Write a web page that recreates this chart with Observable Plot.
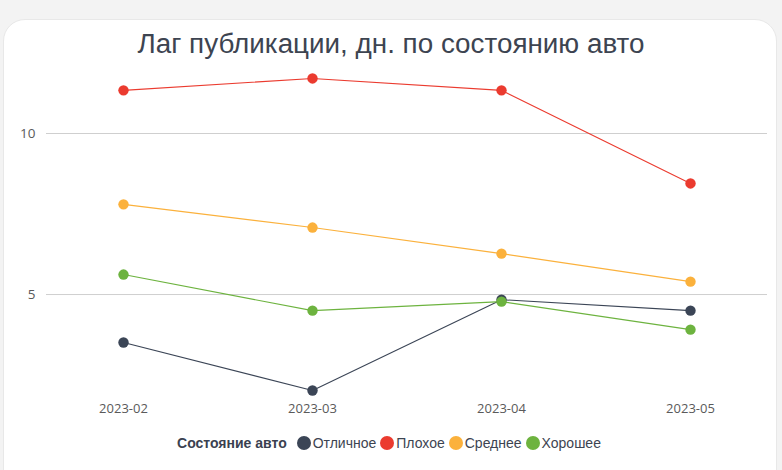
<!DOCTYPE html>
<html>
<head>
<meta charset="utf-8">
<script src="https://cdn.jsdelivr.net/npm/d3@7"></script>
<script src="https://cdn.jsdelivr.net/npm/@observablehq/plot@0.6"></script>
<style>
  html, body { margin: 0; padding: 0; background: #f3f3f3; width: 782px; height: 470px; overflow: hidden; }
  #card { position: absolute; left: 3px; top: 19px; width: 774px; height: 480px; background: #fff; border: 1px solid #e8e8e8; border-radius: 22px; box-sizing: border-box; }
  #title { position: absolute; left: 391px; top: 27px; white-space: nowrap; font-family: "Liberation Sans", "Arial", sans-serif; font-size: 27px; color: #3d4451; line-height: 34px; transform-origin: 0 0; }
  #chart { position: absolute; left: 0; top: 60px; }
  #legend { position: absolute; left: 0; width: 782px; top: 434px; text-align: center; font-family: "Liberation Sans", "Arial", sans-serif; font-size: 14px; color: #3d4451; line-height: 18px; white-space: nowrap; }
  #legend .lt { font-weight: 700; color: #3a4150; margin-right: 10px; }
  #legend .it { display: inline-block; margin-right: 4px; }
  #legend .sw { display: inline-block; width: 14px; height: 14px; border-radius: 50%; vertical-align: -2px; margin-right: 2px; }
</style>
</head>
<body>
<div id="card"></div>
<div id="title">Лаг публикации, дн. по состоянию авто</div>
<div id="chart"></div>
<div id="legend"></div>
<script>
const months = ["2023-02", "2023-03", "2023-04", "2023-05"];
const categories = ["Отличное", "Плохое", "Среднее", "Хорошее"];
const colors = ["#3b4556", "#eb3b2f", "#fbb13c", "#6db33f"];
const valuesOtlichnoe = [3.51, 2.02, 4.84, 4.50];
const valuesPlokhoe = [11.34, 11.71, 11.34, 8.45];
const valuesSrednee = [7.80, 7.08, 6.27, 5.40];
const valuesKhoroshee = [5.62, 4.50, 4.78, 3.91];
const yTicks = [5, 10];
const legendTitle = "Состояние авто";

const seriesValues = [valuesOtlichnoe, valuesPlokhoe, valuesSrednee, valuesKhoroshee];
const data = [];
categories.forEach((c, i) => months.forEach((m, j) => data.push({ month: m, cat: c, value: seriesValues[i][j] })));

const chart = Plot.plot({
  width: 782,
  height: 370,
  marginLeft: 46,
  marginRight: 15,
  marginTop: 8.6,
  marginBottom: 30,
  style: { fontFamily: "'Open Sans', sans-serif", fontSize: "13px", color: "#5a5a5a", background: "transparent", overflow: "visible" },
  x: { type: "point", domain: months, padding: 0.4, label: null },
  y: { domain: [1.71, 12], label: null },
  color: { domain: categories, range: colors },
  marks: [
    Plot.gridY(yTicks, { stroke: "#cfcfcf", strokeOpacity: 1, strokeWidth: 1 }),
    Plot.axisY(yTicks, { tickSize: 0, tickPadding: 11, fontSize: 13.5, fill: "#5a5a5a", label: null }),
    Plot.axisX({ tickSize: 0, tickPadding: 3, fontSize: 13, fill: "#5a5a5a", label: null }),
    Plot.line(data, { x: "month", y: "value", z: "cat", stroke: "cat", strokeWidth: 1.1 }),
    Plot.dot(data, { x: "month", y: "value", fill: "cat", r: 5.2 })
  ]
});
document.getElementById("chart").appendChild(chart);

const title = document.getElementById("title");
const tw = title.getBoundingClientRect().width;
const sx = 507 / tw;
title.style.transform = `translateX(${-253.5}px) scaleX(${sx})`;

const lg = document.getElementById("legend");
const t = document.createElement("span");
t.className = "lt"; t.textContent = legendTitle; lg.appendChild(t);
categories.forEach((c, i) => {
  const it = document.createElement("span"); it.className = "it";
  const sw = document.createElement("span"); sw.className = "sw"; sw.style.background = colors[i];
  it.appendChild(sw); it.appendChild(document.createTextNode(c));
  lg.appendChild(it);
});
</script>
</body>
</html>
